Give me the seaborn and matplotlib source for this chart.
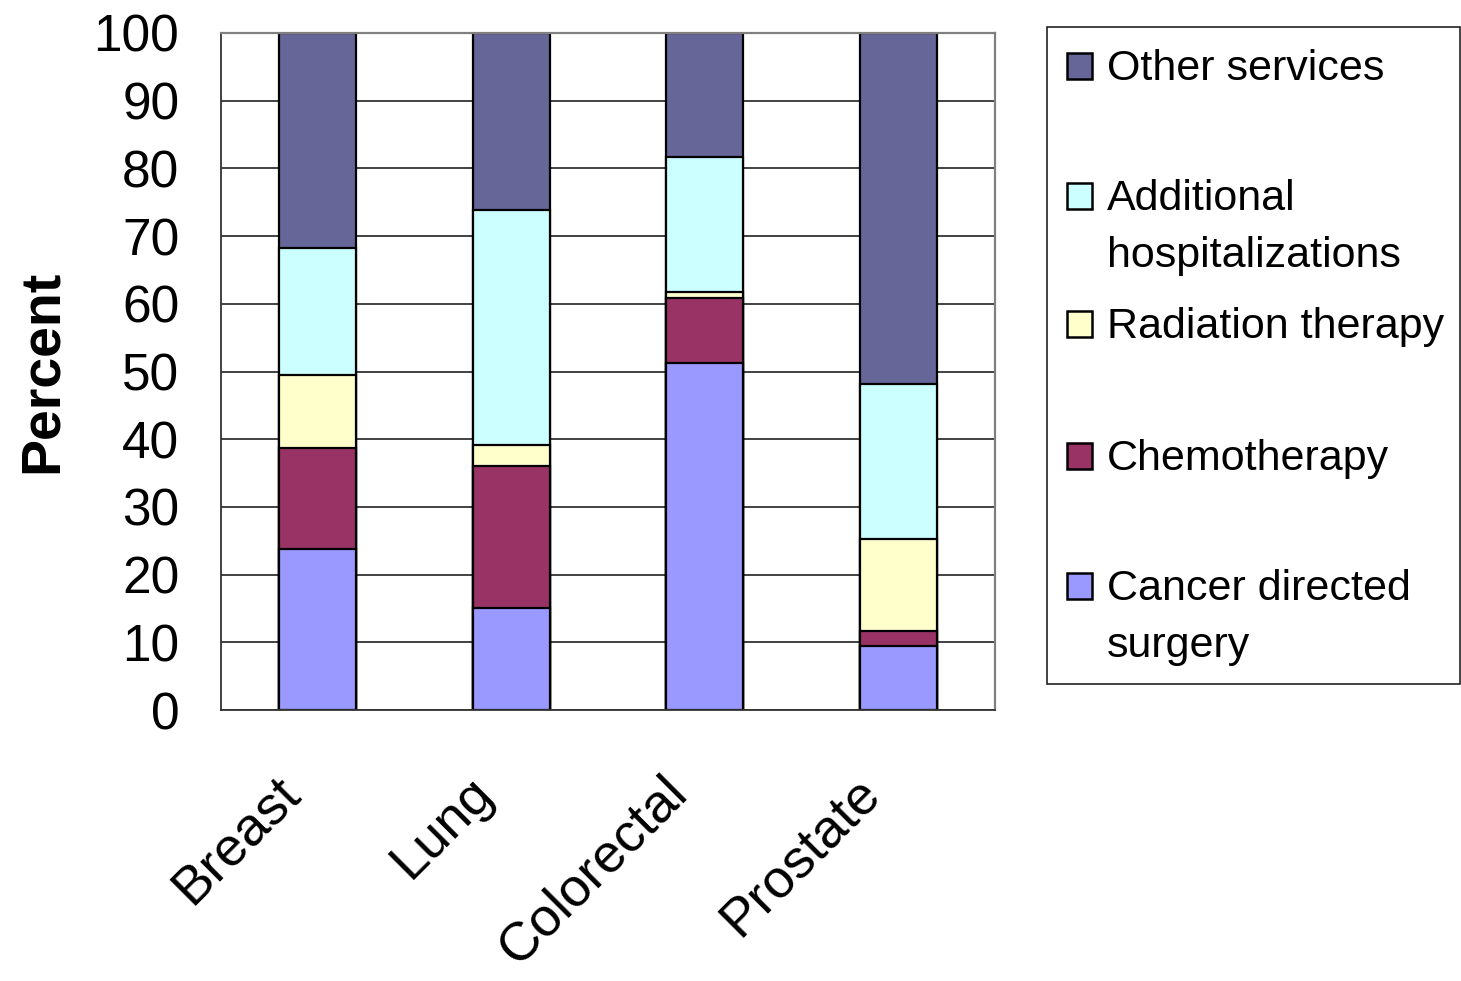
import numpy as np
import matplotlib
matplotlib.use("Agg")
import matplotlib.pyplot as plt
from matplotlib.patches import Rectangle
from matplotlib.transforms import ScaledTranslation
import seaborn as sns

# Data (percent of costs by service, bottom to top)
categories = ["Breast", "Lung", "Colorectal", "Prostate"]
services = ["Cancer directed surgery", "Chemotherapy", "Radiation therapy",
            "Additional hospitalizations", "Other services"]
surgery = [23.8, 15.1, 51.2, 9.5]
chemotherapy = [14.9, 20.9, 9.7, 2.2]
radiation = [10.8, 3.1, 0.8, 13.5]
hospitalizations = [18.7, 34.8, 20.0, 23.0]
other = [31.8, 26.1, 18.3, 51.8]
colors = ["#9999FF", "#993366", "#FFFFCC", "#CCFFFF", "#666699"]
legend_labels = ["Cancer directed\nsurgery", "Chemotherapy", "Radiation therapy",
                 "Additional\nhospitalizations", "Other services"]
y_ticks = list(range(0, 101, 10))

sns.set_style("white")
plt.rcParams["font.family"] = ["Liberation Sans", "DejaVu Sans"]
plt.rcParams["text.color"] = "black"
plt.rcParams["axes.labelcolor"] = "black"

W, H = 1461, 981
fig = plt.figure(figsize=(W / 100, H / 100), dpi=100)
ax = fig.add_axes([221 / W, 1 - 710 / H, (995 - 221) / W, (710 - 33) / H])

# Stacked bars: draw cumulative totals from the top layer down
layers = np.array([surgery, chemotherapy, radiation, hospitalizations, other])
tops = np.cumsum(layers, axis=0)
for i in range(len(services) - 1, -1, -1):
    sns.barplot(x=categories, y=tops[i], order=categories, color=colors[i],
                saturation=1, width=0.4, edgecolor="black", linewidth=1.6,
                errorbar=None, ax=ax)

ax.set_ylim(0, 100)
ax.set_xlim(-0.5, len(categories) - 0.5)
ax.set_yticks(y_ticks)
ax.tick_params(axis="y", labelsize=37, length=14, width=1.2, pad=16,
               color="#333333", labelcolor="black")

# boundaries get tick marks, centres get the labels
ax.set_xticks(np.arange(len(categories) + 1) - 0.5)
ax.set_xticklabels([])
ax.set_xticks(np.arange(len(categories)), minor=True)
ax.set_xticklabels(categories, minor=True, rotation=45, ha="right", va="center",
                   rotation_mode="anchor", fontsize=39)
ax.tick_params(axis="x", which="major", length=13, width=1.2, color="#555555")
ax.tick_params(axis="x", which="minor", length=0, pad=54, labelcolor="black")
for lab in ax.get_xticklabels(minor=True):
    lab.set_transform(lab.get_transform() + ScaledTranslation(-0.26, 0, fig.dpi_scale_trans))

ax.set_xlabel("")
ax.set_ylabel("Percent", fontsize=40, fontweight="bold")
ax.yaxis.set_label_coords(-0.197, 0.5)

ax.yaxis.grid(True, color="#333333", linewidth=1.3)
ax.set_axisbelow(True)
for side in ["top", "right"]:
    ax.spines[side].set_color("#808080")
    ax.spines[side].set_linewidth(1.6)
for side in ["left", "bottom"]:
    ax.spines[side].set_color("#333333")
    ax.spines[side].set_linewidth(1.3)

# Legend box in Excel style: evenly spaced entries, top item first
fig.add_artist(Rectangle((1047 / W, 1 - 684 / H), (1460 - 1047) / W, (684 - 27) / H,
                         transform=fig.transFigure, fill=False, edgecolor="#222222", lw=1.2))
baselines = [80, 210, 338, 470, 600]
for k, idx in enumerate(range(len(services) - 1, -1, -1)):
    base = baselines[k]
    fig.add_artist(Rectangle((1067 / W, 1 - (base - 1) / H), 25 / W, 26 / H,
                             transform=fig.transFigure, facecolor=colors[idx],
                             edgecolor="black", lw=1.8))
    for j, line in enumerate(legend_labels[idx].split("\n")):
        fig.text(1107 / W, 1 - (base + 57 * j) / H, line, fontsize=31,
                 ha="left", va="baseline")

fig.savefig("out.png", dpi=100, facecolor="white")
